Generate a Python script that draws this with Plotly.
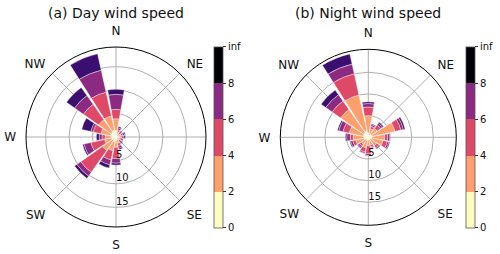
import plotly.graph_objects as go

directions = ["N", "NNE", "NE", "ENE", "E", "ESE", "SE", "SSE",
              "S", "SSW", "SW", "WSW", "W", "WNW", "NW", "NNW"]
dir_angles = [i * 22.5 for i in range(16)]
bin_labels = ["0-2", "2-4", "4-6", "6-8", "8-inf"]
bar_colors = ["#fcfdbf", "#fe9f6d", "#de4968", "#8c2981", "#3b0f70"]
cbar_colors = ["#fcfdbf", "#fe9f6d", "#de4968", "#8c2981", "#000004"]
cbar_ticks = ["0", "2", "4", "6", "8", "inf"]
radial_ticks = [5, 10, 15]

# frequency (%) per speed bin, per direction (N .. NNW)
day_freq = [
    [1.4, 0.5, 0.4, 0.5, 0.4, 0.4, 0.4, 0.6, 0.8, 1.0, 1.0, 1.0, 1.1, 1.2, 1.3, 1.5],
    [2.5, 0.7, 0.5, 0.6, 0.5, 0.4, 0.5, 0.8, 1.4, 2.0, 2.5, 1.5, 1.2, 2.1, 3.2, 3.1],
    [2.0, 0.4, 0.3, 0.4, 0.4, 0.3, 0.4, 0.6, 2.4, 2.0, 5.7, 3.0, 0.7, 1.7, 4.0, 5.2],
    [3.2, 0.4, 0.3, 0.4, 0.4, 0.3, 0.3, 0.5, 1.0, 1.1, 1.0, 1.5, 0.6, 0.5, 2.3, 4.8],
    [1.1, 0.3, 0.1, 0.2, 0.3, 0.2, 0.2, 0.3, 0.4, 0.7, 0.6, 0.3, 0.6, 2.0, 2.1, 3.6],
]
night_freq = [
    [1.0, 0.6, 0.8, 1.0, 0.8, 0.8, 0.6, 0.6, 0.7, 0.7, 0.8, 0.9, 1.0, 1.2, 1.3, 1.5],
    [4.0, 1.4, 1.7, 5.3, 3.0, 2.7, 1.8, 1.2, 1.3, 1.8, 1.2, 2.1, 2.5, 3.3, 6.5, 8.5],
    [2.0, 0.6, 1.0, 1.4, 0.7, 1.0, 0.6, 0.5, 1.8, 1.0, 0.5, 0.7, 0.7, 1.5, 2.4, 5.0],
    [0.8, 0.4, 0.5, 0.6, 0.5, 0.4, 0.3, 0.2, 0.4, 0.3, 0.4, 0.5, 0.8, 1.0, 1.8, 2.3],
    [0.4, 0.2, 0.3, 0.4, 0.1, 0.2, 0.1, 0.1, 0.1, 0.1, 0.2, 0.2, 0.3, 0.3, 1.3, 2.4],
]
titles = ["(a) Day wind speed", "(b) Night wind speed"]
radial_max = [19.2, 20.3]

W, H = 500, 254
fig = go.Figure()

panels = [
    dict(data=day_freq, sub="polar", cx=116, cy=137, rad=90, cbx=214),
    dict(data=night_freq, sub="polar2", cx=368.3, cy=137.3, rad=88, cbx=466),
]

n = len(bin_labels)
cscale = []
for i, c in enumerate(cbar_colors):
    cscale.append([i / n, c])
    cscale.append([(i + 1) / n, c])

for k, p in enumerate(panels):
    for b in range(n):
        fig.add_trace(go.Barpolar(
            r=p["data"][b], theta=dir_angles, width=[20] * 16,
            marker=dict(color=bar_colors[b], line=dict(color="white", width=0.4)),
            subplot=p["sub"], showlegend=False, name=bin_labels[b],
        ))
    # radial tick labels, drawn slightly inside their rings as in the reference
    px_per_unit = p["rad"] / radial_max[k]
    shift = 5.0 / px_per_unit
    fig.add_trace(go.Scatterpolar(
        r=[t - shift for t in radial_ticks], theta=[180] * len(radial_ticks),
        mode="text", text=[str(t) for t in radial_ticks], textposition="middle right",
        textfont=dict(size=10, family="DejaVu Sans", color="#111111"),
        subplot=p["sub"], showlegend=False, hoverinfo="skip",
    ))
    fig.add_trace(go.Scatterpolar(
        r=[0], theta=[0], mode="markers", subplot=p["sub"], showlegend=False,
        hoverinfo="skip",
        marker=dict(size=0.1, opacity=0, color=[0], cmin=0, cmax=10, colorscale=cscale,
                    showscale=True,
                    colorbar=dict(
                        x=p["cbx"] / W, xanchor="left", y=1 - 137.4 / H, yanchor="middle",
                        len=(228 - 46.7) / H, lenmode="fraction", thickness=9,
                        thicknessmode="pixels", outlinewidth=0.8, outlinecolor="#555555",
                        tickvals=[0, 2, 4, 6, 8, 10], ticktext=cbar_ticks,
                        ticks="outside", ticklen=3, tickcolor="#333333",
                        tickfont=dict(size=10, family="DejaVu Sans", color="#111111"),
                        xpad=0, ypad=0, bgcolor="rgba(0,0,0,0)",
                    )),
    ))
    dom_x = [(p["cx"] - p["rad"]) / W, (p["cx"] + p["rad"]) / W]
    dom_y = [1 - (p["cy"] + p["rad"]) / H, 1 - (p["cy"] - p["rad"]) / H]
    fig.layout[p["sub"]] = dict(
        domain=dict(x=dom_x, y=dom_y),
        bgcolor="white",
        barmode="stack",
        angularaxis=dict(
            direction="clockwise", rotation=90,
            tickmode="array", tickvals=[0, 45, 90, 135, 180, 225, 270, 315],
            ticktext=["N", "NE", "E", "SE", "S", "SW", "W", "NW"],
            showline=True, linecolor="black", linewidth=1,
            showgrid=True, gridcolor="#b0b0b0", gridwidth=0.8,
            ticks="outside", ticklen=7, tickcolor="rgba(0,0,0,0)",
            tickfont=dict(size=12, family="DejaVu Sans", color="#111111"),
        ),
        radialaxis=dict(
            range=[0, radial_max[k]], tickmode="array", tickvals=radial_ticks,
            showticklabels=False, angle=-90,
            showline=False, ticks="", showgrid=True, gridcolor="#b0b0b0", gridwidth=0.8,
        ),
    )
    fig.add_annotation(
        text=titles[k], x=p["cx"] / W, y=1 - 13 / H, xref="paper", yref="paper",
        showarrow=False, xanchor="center", yanchor="middle",
        font=dict(size=14, family="DejaVu Sans", color="#111111"),
    )

fig.update_layout(
    width=W, height=H, margin=dict(l=0, r=0, t=0, b=0, autoexpand=False),
    paper_bgcolor="white", plot_bgcolor="white",
)
fig.write_html("out.html", config={"displayModeBar": False},
               post_script="document.body.style.margin='0px';document.body.style.padding='0px';")
